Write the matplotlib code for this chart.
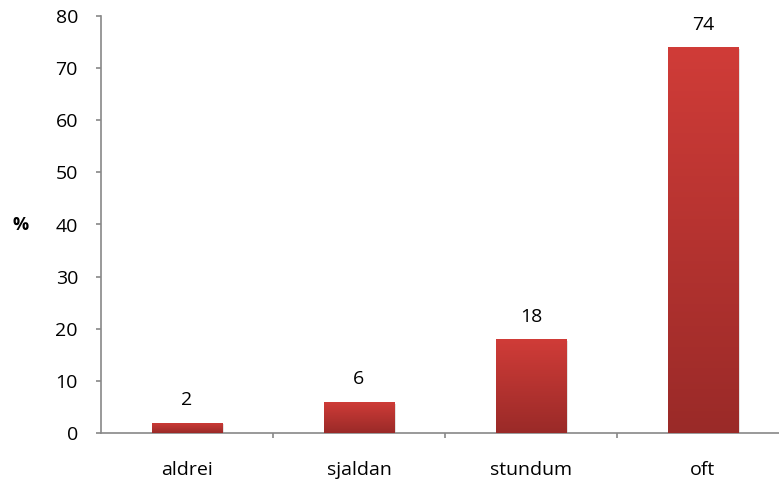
import numpy as np
import matplotlib.pyplot as plt
from matplotlib.colors import LinearSegmentedColormap

# Data
categories = ["aldrei", "sjaldan", "stundum", "oft"]
values = [2, 6, 18, 74]

plt.rcParams['font.family'] = ['Open Sans', 'DejaVu Sans']

fig = plt.figure(figsize=(7.79, 4.86), dpi=100)
# axis runs a bit past the right edge of the picture, like the original
ax = fig.add_axes([101 / 779, 1 - 433 / 486, 688 / 779, 417 / 486])

x = np.arange(len(categories))
bars = ax.bar(x, values, width=0.41, color="none", edgecolor="none", zorder=3)

# vertical gradient, lighter on top
cmap = LinearSegmentedColormap.from_list("red_grad", ["#9a2a28", "#d03c38"])
grad = np.linspace(0, 1, 256).reshape(-1, 1)
for b in bars:
    x0, y0 = b.get_x(), b.get_y()
    w, h = b.get_width(), b.get_height()
    # soft shadow
    ax.bar(x0 + w / 2 + 0.012, h, width=w, bottom=-0.35, color="#c8c8c8",
           alpha=0.5, zorder=2, edgecolor="none")
    im = ax.imshow(grad, cmap=cmap, origin="lower", aspect="auto",
                   extent=[x0, x0 + w, y0, y0 + h], zorder=3)
    im.set_clip_path(b)

for xi, v in zip(x, values):
    ax.text(xi, v + 2.6, str(v), ha="center", va="bottom", fontsize=14, color="black")

ax.set_xlim(-0.5, 3.5)
ax.set_ylim(0, 80)
ax.set_yticks(range(0, 81, 10))
ax.set_xticks(x)
ax.set_xticklabels(categories)
ax.set_xticks(np.arange(0.5, 4, 1), minor=True)

for s in ["top", "right"]:
    ax.spines[s].set_visible(False)
for s in ["left", "bottom"]:
    ax.spines[s].set_color("#888888")
    ax.spines[s].set_linewidth(1.2)

ax.tick_params(axis="y", length=3.6, width=1.2, color="#888888", labelsize=14, pad=13)
ax.tick_params(axis="x", which="major", length=0, labelsize=14, pad=20)
ax.tick_params(axis="x", which="minor", length=3.6, width=1.2, color="#888888")

ax.set_ylabel("%", rotation=0, fontsize=13, fontweight="bold", labelpad=25, va="center")

plt.savefig("out.png", dpi=100)
